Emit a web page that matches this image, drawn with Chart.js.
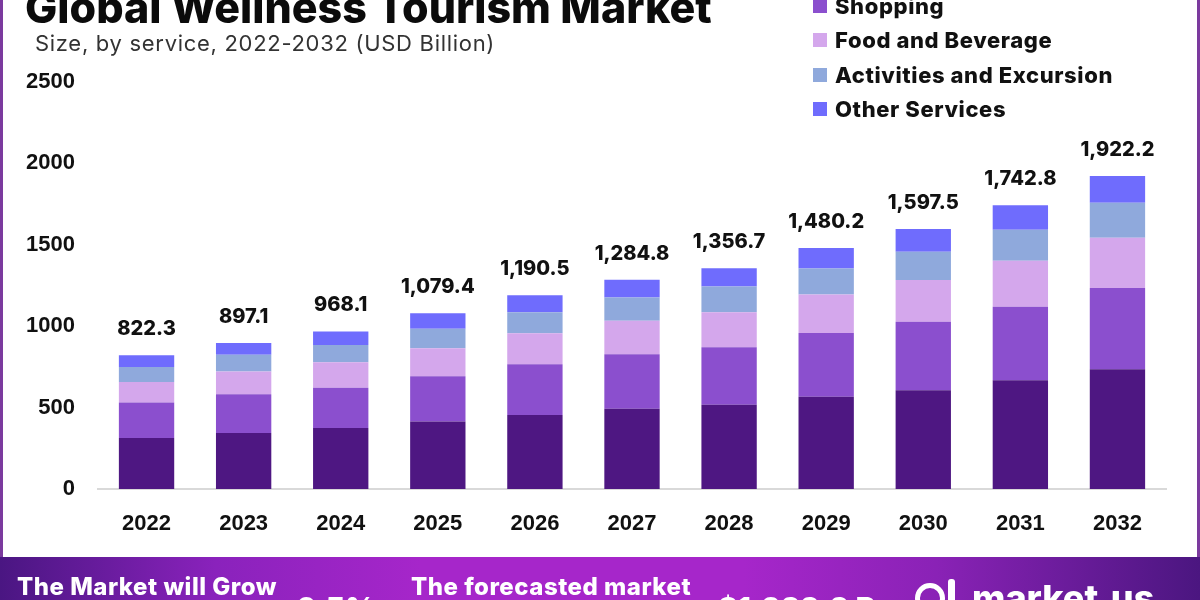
<!DOCTYPE html>
<html>
<head>
<meta charset="utf-8">
<script src="https://cdn.jsdelivr.net/npm/chart.js@4"></script>
<style>
  body { margin: 0; width: 1200px; height: 600px; overflow: hidden; background: #fff; position: relative; font-family: Inter, "Noto Sans", sans-serif; }
  #frame { position: absolute; left: 0; top: -10px; width: 1194px; height: 564px; border: 3px solid #7b3a9e; box-sizing: content-box; pointer-events: none; }
  #chart { position: absolute; left: 0; top: 0; }
  #title { position: absolute; left: 25px; top: -19px; font-size: 43px; font-weight: 800; color: #0b0b0b; white-space: nowrap; }
  #subtitle { position: absolute; left: 35px; top: 30px; font-size: 22px; font-weight: 400; color: #333; letter-spacing: 0.7px; white-space: nowrap; }
  #legend { position: absolute; left: 813px; top: -46px; margin: 0; padding: 0; list-style: none; }
  #legend li { height: 34.5px; display: flex; align-items: center; font-size: 22px; font-weight: 800; color: #111; letter-spacing: 0.6px; white-space: nowrap; }
  #legend span { display: inline-block; width: 14px; height: 14px; margin-right: 8px; }
  #banner { position: absolute; left: 0; top: 557px; width: 1200px; height: 43px;
    background: linear-gradient(90deg, #4a1682 0%, #8a22bc 18%, #a626ca 35%, #a626ca 62%, #8a22b6 78%, #4b1680 100%); overflow: hidden; }
  .btxt { position: absolute; color: #fff; font-weight: 800; white-space: nowrap; }
  .logo-c { position: absolute; left: 915px; top: 26px; width: 20px; height: 20px; border: 5px solid #fff; border-radius: 50%; }
  .logo-b { position: absolute; left: 948px; top: 22px; width: 7px; height: 30px; background: #fff; border-radius: 3px; }
</style>
</head>
<body>
<canvas id="chart" width="1200" height="555"></canvas>
<div id="frame"></div>
<div id="title">Global Wellness Tourism Market</div>
<div id="subtitle">Size, by service, 2022-2032 (USD Billion)</div>
<ul id="legend"></ul>
<div id="banner">
  <div class="btxt" style="left:17px;top:15px;font-size:24px;letter-spacing:0.5px;">The Market will Grow</div>
  <div class="btxt" style="left:296px;top:33px;font-size:30px;">6.5%</div>
  <div class="btxt" style="left:411px;top:15px;font-size:24px;letter-spacing:0.5px;">The forecasted market</div>
  <div class="btxt" style="left:718px;top:33px;font-size:30px;">$1,922.2 Bn</div>
  <div class="logo-c"></div>
  <div class="logo-b"></div>
  <div class="btxt" style="left:972px;top:19px;font-size:36px;">market.us</div>
</div>
<script>
// data (USD Billion)
const years = ['2022', '2023', '2024', '2025', '2026', '2027', '2028', '2029', '2030', '2031', '2032'];
const lodging = [313, 344, 375, 415, 454, 493, 518, 566, 606, 668, 735];
const shopping = [219, 238, 247, 278, 313, 335, 352, 392, 421, 452, 500];
const foodBeverage = [126, 139, 156, 171, 189, 206, 216, 237, 257, 282, 308];
const activities = [92, 103, 106, 120, 129, 142, 158, 160, 174, 191, 215];
const otherServices = [72.3, 73.1, 84.1, 95.4, 105.5, 108.8, 112.7, 125.2, 139.5, 149.8, 164.2];
const totals = [822.3, 897.1, 968.1, 1079.4, 1190.5, 1284.8, 1356.7, 1480.2, 1597.5, 1742.8, 1922.2];
const yTicks = [0, 500, 1000, 1500, 2000, 2500];

const seriesNames = ['Lodging', 'Shopping', 'Food and Beverage', 'Activities and Excursion', 'Other Services'];
const seriesData = [lodging, shopping, foodBeverage, activities, otherServices];
const seriesColors = ['#4e1782', '#8b4fce', '#d4a7ec', '#8fa9dc', '#6f6cfd'];

// legend (first entry sits above the top edge, as in the picture)
const legend = document.getElementById('legend');
seriesNames.forEach((name, i) => {
    const li = document.createElement('li');
    li.innerHTML = `<span style="background:${seriesColors[i]}"></span>${name}`;
    legend.appendChild(li);
});

const fmt = v => v.toLocaleString('en-US', { minimumFractionDigits: 1, maximumFractionDigits: 1 });

// totals above each stack
const totalLabels = {
    id: 'totalLabels',
    afterDatasetsDraw(chart) {
        const ctx = chart.ctx;
        const meta = chart.getDatasetMeta(chart.data.datasets.length - 1);
        ctx.save();
        ctx.font = '800 20px Inter, "Noto Sans", sans-serif';
        ctx.fillStyle = '#111';
        ctx.textAlign = 'center';
        ctx.textBaseline = 'alphabetic';
        meta.data.forEach((bar, i) => {
            ctx.fillText(fmt(totals[i]), bar.x, bar.y - 20);
        });
        ctx.restore();
    }
};

const tickFont = { family: '"Liberation Sans", Arial, sans-serif', size: 22, weight: 'bold' };

new Chart(document.getElementById('chart'), {
    type: 'bar',
    data: {
        labels: years,
        datasets: seriesNames.map((name, i) => ({
            label: name,
            data: seriesData[i],
            backgroundColor: seriesColors[i],
            borderWidth: 0,
            barPercentage: 0.57,
            categoryPercentage: 1
        }))
    },
    options: {
        responsive: false,
        animation: false,
        layout: { padding: { top: 82, right: 34, left: 0, bottom: 0 } },
        plugins: { legend: { display: false }, tooltip: { enabled: false } },
        scales: {
            x: {
                stacked: true,
                grid: { display: false, drawTicks: false },
                border: { display: true, color: '#d9d9d9', width: 2 },
                ticks: { color: '#111', font: tickFont, padding: 22 },
                afterFit(scale) { scale.height = 66; }
            },
            y: {
                stacked: true,
                min: 0,
                max: 2500,
                grid: { display: false, drawTicks: false },
                border: { display: false },
                ticks: { color: '#111', font: tickFont, padding: 23, callback: v => String(v) },
                afterBuildTicks(scale) { scale.ticks = yTicks.map(v => ({ value: v })); },
                afterFit(scale) { scale.width = 98; }
            }
        }
    },
    plugins: [totalLabels]
});
</script>
</body>
</html>
